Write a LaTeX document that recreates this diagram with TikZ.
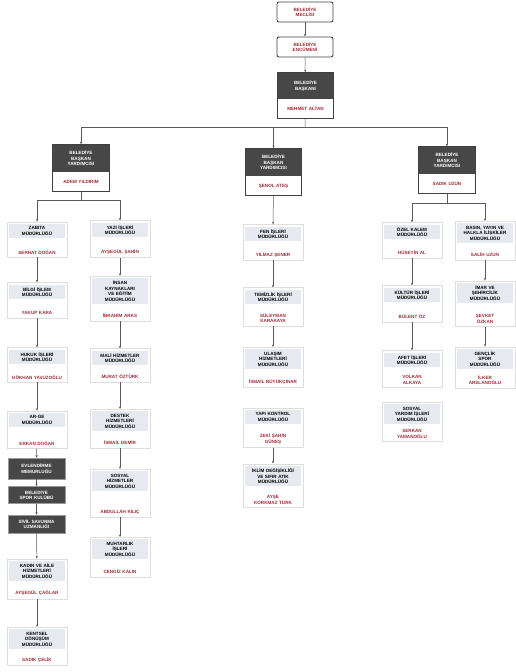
\documentclass[tikz,border=0pt]{standalone}
\usepackage{fontspec}
\setmainfont{Liberation Sans}
\usetikzlibrary{arrows.meta,fit}
\definecolor{titlebg}{HTML}{E6E9F0}
\definecolor{namered}{HTML}{A02B38}
\definecolor{headgray}{HTML}{474747}
\tikzset{
 txt/.style={font=\fontsize{4.6}{5.5}\selectfont\bfseries, align=center},
 ttl/.style={txt, fill=titlebg, text width=51pt, inner xsep=2.5pt, inner ysep=2.5pt},
 nm/.style={txt, text=namered, text width=53pt, inner sep=1pt},
 cardframe/.style={draw=black!13, line width=0.4pt, inner sep=2pt},
 dhead/.style={txt, fill=headgray, text=white, text width=52pt, inner xsep=2pt, inner ysep=1pt},
 dname/.style={txt, fill=white, text=namered, text width=52pt, inner xsep=2pt, inner ysep=1pt},
 lframe/.style={draw=black!75, line width=1pt, inner sep=0pt},
 topbox/.style={txt, draw=black!75, line width=0.9pt, rounded corners=2pt, text=namered, minimum width=56pt, minimum height=20pt, inner sep=1pt},
 darkunit/.style={txt, fill=headgray, text=white, draw=black!40, text width=51pt, inner xsep=3pt, inner ysep=1pt},
 conn/.style={draw=black!65, line width=0.5pt},
 arr/.style={conn, -{Stealth[length=2.6pt,width=2.2pt]}},
}
\newcommand\orgcard[6]{%
 \node[ttl] (#1t) at (#2,#3) {#4};
 \node[nm] (#1n) at (#2,#5) {#6};
 \node[cardframe, fit=(#1t)(#1n)] (#1) {};
}
\newcommand\leadbox[6]{% id, x, header height, header y, header, name
 \node[dhead, minimum height=#3] (#1h) at (#2,#4) {#5};
 \node[dname, minimum height=19pt, anchor=north] (#1n) at (#1h.south) {#6};
 \node[lframe, fit=(#1h)(#1n)] (#1) {};
}
\begin{document}
\begin{tikzpicture}[x=1pt,y=-1pt]
\useasboundingbox (0,0) rectangle (516,672);

% top
\node[topbox] (mec) at (305,12) {BELEDİYE\\MECLİSİ};
\node[topbox] (enc) at (305,47) {BELEDİYE\\ENCÜMENİ};
\leadbox{bsk}{305.5}{26pt}{86}{BELEDİYE\\BAŞKANI}{MEHMET ALTAN}
\draw[arr] (mec) -- (enc);
\draw[arr] (enc) -- (bsk);

% deputies
\leadbox{ld}{81}{27pt}{158.5}{BELEDİYE\\BAŞKAN\\YARDIMCISI}{ADEM YILDIRIM}
\leadbox{md}{273.5}{27pt}{162.5}{BELEDİYE\\BAŞKAN\\YARDIMCISI}{ŞENOL ATEŞ}
\leadbox{rd}{447}{27pt}{160.5}{BELEDİYE\\BAŞKAN\\YARDIMCISI}{SADIK UZUN}
\coordinate (hub) at (305,127);
\draw[conn] (bsk) -- (hub);
\draw[arr] (hub) -| (ld);
\draw[arr] (hub) -| (md);
\draw[arr] (hub) -| (rd);

% left column 1
\orgcard{zab}{37}{231}{ZABITA\\MÜDÜRLÜĞÜ}{252}{SERHAT DOĞAN}
\orgcard{bil}{37}{292}{BİLGİ İŞLEM\\MÜDÜRLÜĞÜ}{313}{YAKUP KARA}
\orgcard{huk}{37}{357}{HUKUK İŞLERİ\\MÜDÜRLÜĞÜ}{377}{GÖKHAN YAVUZOĞLU}
\orgcard{arg}{37}{420}{AR-GE\\MÜDÜRLÜĞÜ}{443}{ERKAN DOĞAN}
\node[darkunit, minimum height=21pt] (dk1) at (36.5,468.5) {EVLENDİRME\\MEMURLUĞU};
\node[darkunit, minimum height=17pt] (dk2) at (36.5,495) {BELEDİYE\\SPOR KULÜBÜ};
\node[darkunit, minimum height=18pt] (dk3) at (36.5,524) {SİVİL SAVUNMA\\UZMANLIĞI};
\orgcard{kad}{37}{571}{KADIN VE AİLE\\HİZMETLERİ\\MÜDÜRLÜĞÜ}{593}{AYŞEGÜL ÇAĞLAR}
\orgcard{ken}{37}{639}{KENTSEL\\DÖNÜŞÜM\\MÜDÜRLÜĞÜ}{660}{SADIK ÇELİK}

% left column 2
\orgcard{yaz}{120}{230}{YAZI İŞLERİ\\MÜDÜRLÜĞÜ}{252}{AYŞEGÜL ŞAHİN}
\orgcard{ins}{120}{291}{İNSAN\\KAYNAKLARI\\VE EĞİTİM\\MÜDÜRLÜĞÜ}{316}{İBRAHİM ARAS}
\orgcard{mal}{120}{358}{MALİ HİZMETLER\\MÜDÜRLÜĞÜ}{377}{MURAT ÖZTÜRK}
\orgcard{des}{120}{421}{DESTEK\\HİZMETLERİ\\MÜDÜRLÜĞÜ}{443}{İSMAİL DEMİR}
\orgcard{sos}{120}{481}{SOSYAL\\HİZMETLER\\MÜDÜRLÜĞÜ}{512}{ABDULLAH KILIÇ}
\orgcard{muh}{120}{549}{MUHTARLIK\\İŞLERİ\\MÜDÜRLÜĞÜ}{572}{CENGİZ KALIN}

% middle column
\orgcard{fen}{273}{234}{FEN İŞLERİ\\MÜDÜRLÜĞÜ}{255}{YILMAZ ŞENER}
\orgcard{tem}{273}{297}{TEMİZLİK İŞLERİ\\MÜDÜRLÜĞÜ}{318}{SÜLEYMAN\\KARAKAYA}
\orgcard{ula}{273}{359}{ULAŞIM\\HİZMETLERİ\\MÜDÜRLÜĞÜ}{382}{İSMAİL BÜYÜKÇINAR}
\orgcard{yap}{273}{417}{YAPI KONTROL\\MÜDÜRLÜĞÜ}{439}{ZEKİ ŞAHİN\\GÜNEŞ}
\orgcard{ikl}{273}{476}{İKLİM DEĞİŞİKLİĞİ\\VE SIFIR ATIK\\MÜDÜRLÜĞÜ}{500}{AYŞE\\KORKMAZ TÜRK}

% right column 1
\orgcard{oze}{412}{232}{ÖZEL KALEM\\MÜDÜRLÜĞÜ}{253}{HÜSEYİN AL}
\orgcard{kul}{412}{295}{KÜLTÜR İŞLERİ\\MÜDÜRLÜĞÜ}{317}{BÜLENT ÖZ}
\orgcard{afe}{412}{360}{AFET İŞLERİ\\MÜDÜRLÜĞÜ}{380}{VOLKAN\\ALKAYA}
\orgcard{sya}{412}{414}{SOSYAL\\YARDIM İŞLERİ\\MÜDÜRLÜĞÜ}{434}{SERKAN\\YAMANOĞLU}

% right column 2
\orgcard{bas}{485}{233}{BASIN, YAYIN VE\\HALKLA İLİŞKİLER\\MÜDÜRLÜĞÜ}{255}{SALİH UZUN}
\orgcard{ima}{485}{293}{İMAR VE\\ŞEHİRCİLİK\\MÜDÜRLÜĞÜ}{319}{ŞEVKET\\ÖZKAN}
\orgcard{gen}{485}{359}{GENÇLİK\\SPOR\\MÜDÜRLÜĞÜ}{380}{İLKER\\ARSLANOĞLU}

% brackets
\coordinate (lb) at (81,200);
\draw[conn] (ld) -- (lb);
\draw[arr] (lb) -| (zab);
\draw[arr] (lb) -| (yaz);
\draw[arr] (md) -- (fen);
\coordinate (rb) at (447,203);
\draw[conn] (rd) -- (rb);
\draw[arr] (rb) -| (oze);
\draw[arr] (rb) -| (bas);

% chains
\draw[arr] (zab) -- (bil);
\draw[arr] (bil) -- (huk);
\draw[arr] (huk) -- (arg);
\draw[arr] (arg) -- (dk1);
\draw[arr] (dk1) -- (dk2);
\draw[arr] (dk2) -- (dk3);
\draw[arr] (dk3) -- (kad);
\draw[arr] (kad) -- (ken);
\draw[arr] (yaz) -- (ins);
\draw[arr] (ins) -- (mal);
\draw[arr] (mal) -- (des);
\draw[arr] (des) -- (sos);
\draw[arr] (sos) -- (muh);
\draw[arr] (fen) -- (tem);
\draw[arr] (tem) -- (ula);
\draw[arr] (yap) -- (ikl);
\draw[arr] (oze) -- (kul);
\draw[arr] (kul) -- (afe);
\draw[arr] (bas) -- (ima);
\draw[arr] (ima) -- (gen);
\end{tikzpicture}
\end{document}
